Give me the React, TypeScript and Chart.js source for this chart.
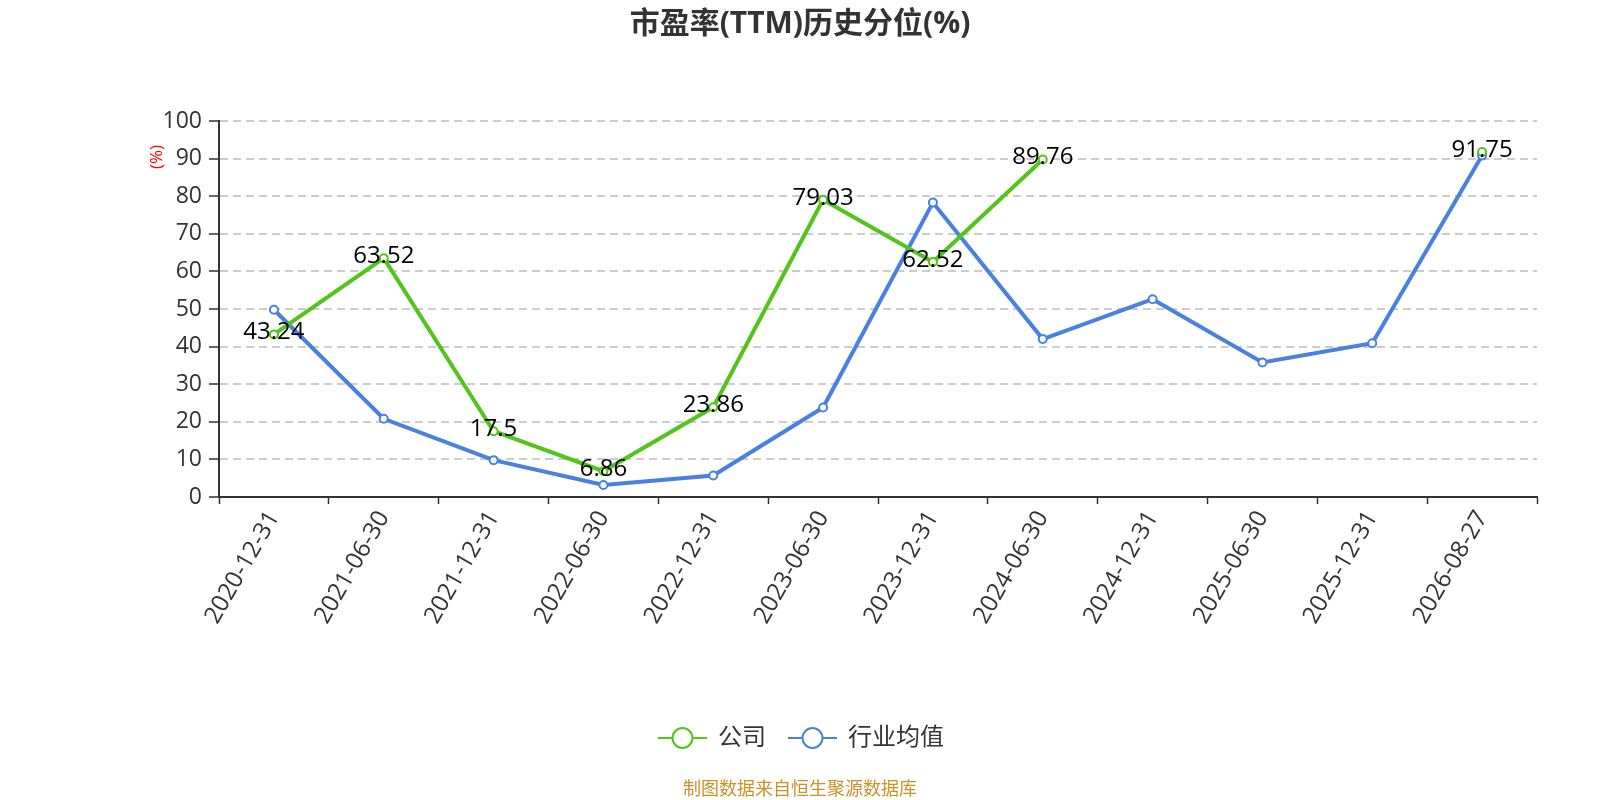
import { useEffect, useRef } from "react";
import { Chart, registerables } from "chart.js";

Chart.register(...registerables);

const FONT = "'Open Sans', 'Noto Sans CJK SC', sans-serif";

const dates = [
  "2020-12-31", "2021-06-30", "2021-12-31", "2022-06-30", "2022-12-31", "2023-06-30",
  "2023-12-31", "2024-06-30", "2024-12-31", "2025-06-30", "2025-12-31", "2026-08-27",
];
const companyValues = [43.24, 63.52, 17.5, 6.86, 23.86, 79.03, 62.52, 89.76, null, null, null, 91.75];
const industryValues = [49.8, 20.8, 9.8, 3.2, 5.7, 23.8, 78.3, 42, 52.6, 35.8, 40.9, 90.8];
const seriesNames = ["公司", "行业均值"];
const seriesColors = ["#52c41a", "#4a80e0"];

const chartTitle = "市盈率(TTM)历史分位(%)";
const yAxisName = "(%)";
const sourceText = "制图数据来自恒生聚源数据库";

// value labels, axis name, title, legend and source note
const decorPlugin = {
  id: "decor",
  afterDatasetsDraw(chart: any) {
    const ctx = chart.ctx;
    const meta = chart.getDatasetMeta(0);
    ctx.save();
    ctx.font = `24px ${FONT}`;
    ctx.fillStyle = "#000";
    ctx.textAlign = "center";
    ctx.textBaseline = "middle";
    meta.data.forEach((pt: any, i: number) => {
      const v = companyValues[i];
      if (v === null || v === undefined) return;
      ctx.fillText(String(v), pt.x, pt.y - 2);
    });
    ctx.restore();
  },
  afterDraw(chart: any) {
    const ctx = chart.ctx;
    ctx.save();
    // title
    ctx.font = `bold 30px ${FONT}`;
    ctx.fillStyle = "#333";
    ctx.textAlign = "center";
    ctx.textBaseline = "middle";
    ctx.fillText(chartTitle, 800, 24);

    // y axis name
    ctx.save();
    ctx.translate(157, 157);
    ctx.rotate(-Math.PI / 2);
    ctx.font = `17px ${FONT}`;
    ctx.fillStyle = "#ff0000";
    ctx.fillText(yAxisName, 0, 0);
    ctx.restore();

    // legend
    ctx.font = `24px ${FONT}`;
    ctx.textAlign = "left";
    let x = 658;
    const ly = 738;
    seriesNames.forEach((name, i) => {
      ctx.strokeStyle = seriesColors[i];
      ctx.lineWidth = 2;
      ctx.beginPath();
      ctx.moveTo(x, ly);
      ctx.lineTo(x + 49, ly);
      ctx.stroke();
      ctx.beginPath();
      ctx.arc(x + 24.5, ly, 10, 0, Math.PI * 2);
      ctx.fillStyle = "#fff";
      ctx.fill();
      ctx.stroke();
      ctx.fillStyle = "#333";
      ctx.fillText(name, x + 60, ly);
      x += 60 + ctx.measureText(name).width + 22;
    });

    // source
    ctx.font = `18px ${FONT}`;
    ctx.fillStyle = "#c8922a";
    ctx.textAlign = "center";
    ctx.fillText(sourceText, 800, 790);
    ctx.restore();
  },
};

function App() {
  const canvasRef = useRef<HTMLCanvasElement | null>(null);

  useEffect(() => {
    if (!canvasRef.current) return;
    const chart = new Chart(canvasRef.current, {
      type: "line",
      data: {
        labels: dates,
        datasets: [
          {
            label: seriesNames[0],
            data: companyValues,
            borderColor: seriesColors[0],
            backgroundColor: "#fff",
            borderWidth: 4,
            pointRadius: 4,
            pointBorderWidth: 2,
            pointBackgroundColor: "#fff",
            pointBorderColor: seriesColors[0],
            spanGaps: false,
            tension: 0,
          },
          {
            label: seriesNames[1],
            data: industryValues,
            borderColor: seriesColors[1],
            backgroundColor: "#fff",
            borderWidth: 4,
            pointRadius: 4,
            pointBorderWidth: 2,
            pointBackgroundColor: "#fff",
            pointBorderColor: seriesColors[1],
            tension: 0,
          },
        ],
      },
      options: {
        animation: false,
        responsive: true,
        maintainAspectRatio: false,
        devicePixelRatio: 1,
        layout: { padding: { top: 121, right: 63, left: 0, bottom: 0 } },
        plugins: {
          legend: { display: false },
          title: { display: false },
          tooltip: { enabled: false },
        },
        scales: {
          x: {
            offset: true,
            grid: {
              offset: true,
              drawOnChartArea: false,
              drawTicks: true,
              tickLength: 7,
              tickColor: "#333",
              tickWidth: 1.5,
              color: "#333",
            },
            border: { color: "#333", width: 2 },
            ticks: {
              font: { family: FONT, size: 24 },
              color: "#333",
              minRotation: 60,
              maxRotation: 60,
              padding: 2,
              autoSkip: false,
            },
            afterFit(scale: any) {
              scale.height = 303;
            },
          },
          y: {
            min: 0,
            max: 100,
            ticks: {
              stepSize: 10,
              font: { family: FONT, size: 23 },
              color: "#333",
              padding: 7,
            },
            grid: {
              color: "#cccccc",
              lineWidth: 2,
              tickColor: "#333",
              tickWidth: 1.5,
              tickLength: 10,
              tickBorderDash: [],
            },
            border: { color: "#333", width: 2, dash: [8, 5] },
            afterFit(scale: any) {
              scale.width = 219;
            },
          },
        },
      },
      plugins: [decorPlugin],
    });
    return () => chart.destroy();
  }, []);

  return (
    <div style={{ position: "absolute", left: 0, top: 0, width: 1600, height: 800, background: "#fff" }}>
      <canvas ref={canvasRef} />
    </div>
  );
}

export default App;
